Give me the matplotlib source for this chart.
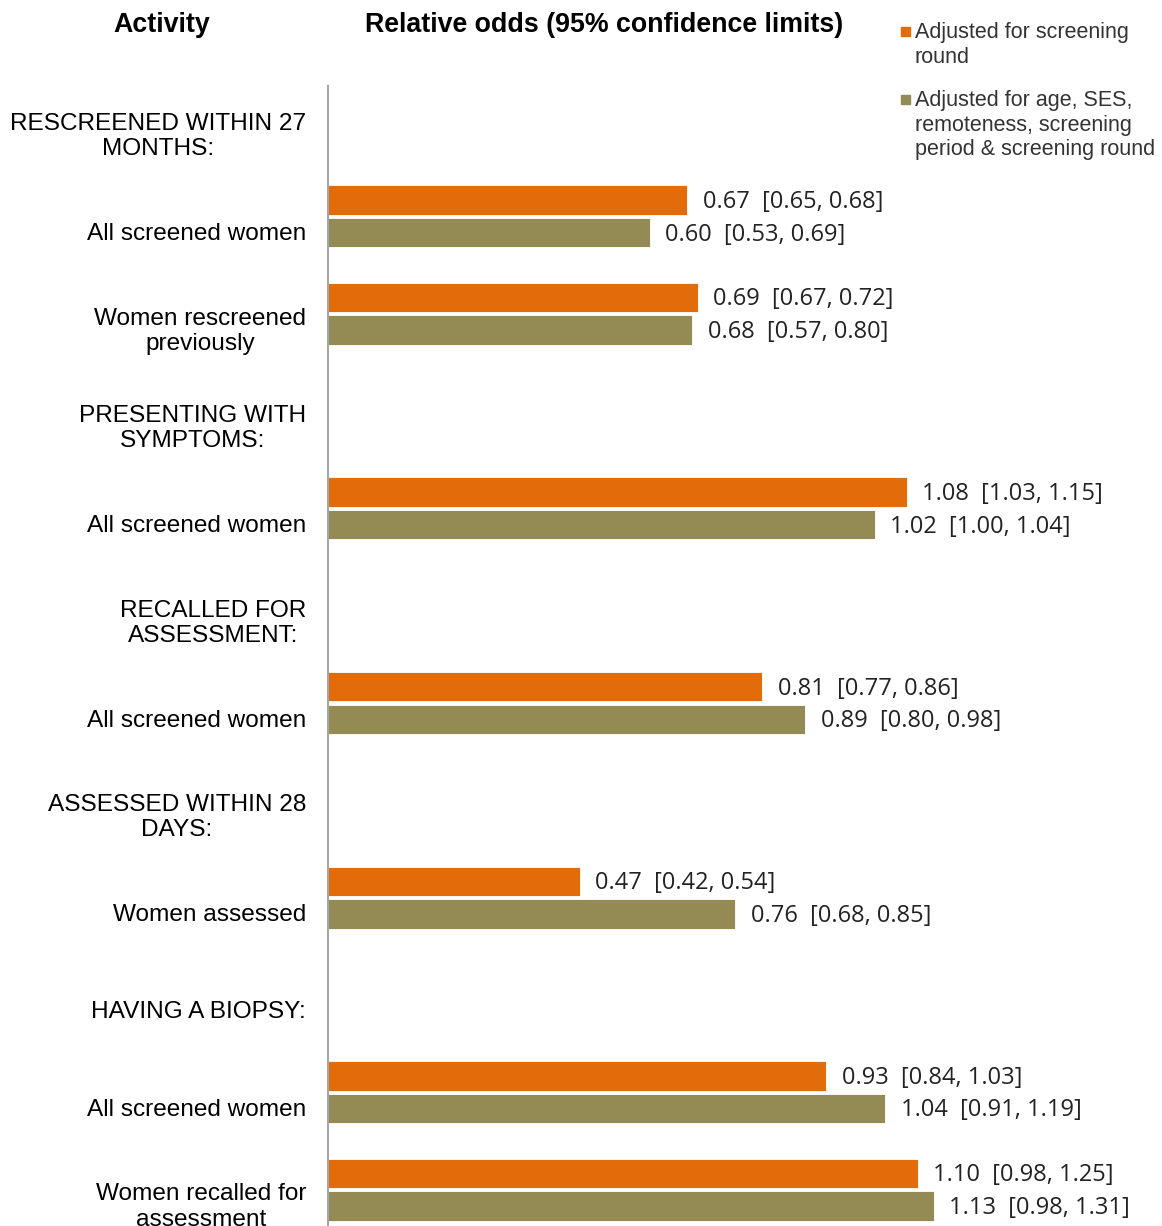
import matplotlib
matplotlib.use("Agg")
import matplotlib.pyplot as plt
import matplotlib.transforms as mtransforms
from matplotlib.patches import Rectangle

# ---- data ----
labels = [
    "RESCREENED WITHIN 27\nMONTHS:",
    "All screened women",
    "Women rescreened\npreviously",
    "PRESENTING WITH\nSYMPTOMS:",
    "All screened women",
    "RECALLED FOR\nASSESSMENT:",
    "All screened women",
    "ASSESSED WITHIN 28\nDAYS:",
    "Women assessed",
    "HAVING A BIOPSY:",
    "All screened women",
    "Women recalled for\nassessment",
]
round_adj = [None, 0.67, 0.69, None, 1.08, None, 0.81, None, 0.47, None, 0.93, 1.10]
round_ci = [None, "[0.65, 0.68]", "[0.67, 0.72]", None, "[1.03, 1.15]", None,
            "[0.77, 0.86]", None, "[0.42, 0.54]", None, "[0.84, 1.03]", "[0.98, 1.25]"]
full_adj = [None, 0.60, 0.68, None, 1.02, None, 0.89, None, 0.76, None, 1.04, 1.13]
full_ci = [None, "[0.53, 0.69]", "[0.57, 0.80]", None, "[1.00, 1.04]", None,
           "[0.80, 0.98]", None, "[0.68, 0.85]", None, "[0.91, 1.19]", "[0.98, 1.31]"]
series_names = ["Adjusted for screening\nround",
                "Adjusted for age, SES,\nremoteness, screening\nperiod & screening round"]

ORANGE = "#E36C0A"
OLIVE = "#948A54"

W, H = 1162, 1226
fig = plt.figure(figsize=(W / 100, H / 100), dpi=100)
ax = fig.add_axes([328 / W, 0, (W - 328) / W, 1 - 86 / H])

off = 0.167
bh = 0.303
tdy = 0.02
for i in range(len(labels)):
    if round_adj[i] is not None:
        ax.barh(i - off, round_adj[i], height=bh, color=ORANGE, edgecolor="white", linewidth=0.6)
        ax.text(round_adj[i] + 0.029, i - off + tdy, f"{round_adj[i]:.2f}  {round_ci[i]}",
                va="center", ha="left", fontsize=17, family="Open Sans", color="#222222")
    if full_adj[i] is not None:
        ax.barh(i + off, full_adj[i], height=bh, color=OLIVE, edgecolor="white", linewidth=0.6)
        ax.text(full_adj[i] + 0.029, i + off + tdy, f"{full_adj[i]:.2f}  {full_ci[i]}",
                va="center", ha="left", fontsize=17, family="Open Sans", color="#222222")

ax.set_xlim(0, (W - 328) / 536)
ax.set_ylim(11.375, -0.341)
ax.set_xticks([])
ax.set_yticks([])
for s in ["top", "right", "bottom"]:
    ax.spines[s].set_visible(False)
ax.spines["left"].set_color("#a6a6a6")
ax.spines["left"].set_linewidth(1.5)

# category labels
trans = mtransforms.blended_transform_factory(fig.transFigure, ax.transData)
for i, lab in enumerate(labels):
    ax.text(306 / W, i + 0.18, lab, transform=trans, ha="right", va="center",
            multialignment="center", fontsize=17.6, family="Liberation Sans",
            color="black", linespacing=1.18, clip_on=False)

# headers
fig.text(162 / W, 1 - 25 / H, "Activity", ha="center", va="center",
         fontsize=19.3, fontweight="bold", family="Liberation Sans")
fig.text(604 / W, 1 - 25 / H, "Relative odds (95% confidence limits)", ha="center",
         va="center", fontsize=19.3, fontweight="bold", family="Liberation Sans")

# legend
leg_y = [31, 99]
for (y, name, col) in zip(leg_y, series_names, [ORANGE, OLIVE]):
    fig.patches.append(Rectangle(((906 - 5) / W, 1 - (y + 5) / H), 9 / W, 9 / H,
                                 transform=fig.transFigure, color=col))
    fig.text(915 / W, 1 - (y - 9) / H, name, ha="left", va="top", fontsize=15.5,
             family="Liberation Sans", color="#333333", linespacing=1.23)

fig.savefig("out.png", dpi=100)
